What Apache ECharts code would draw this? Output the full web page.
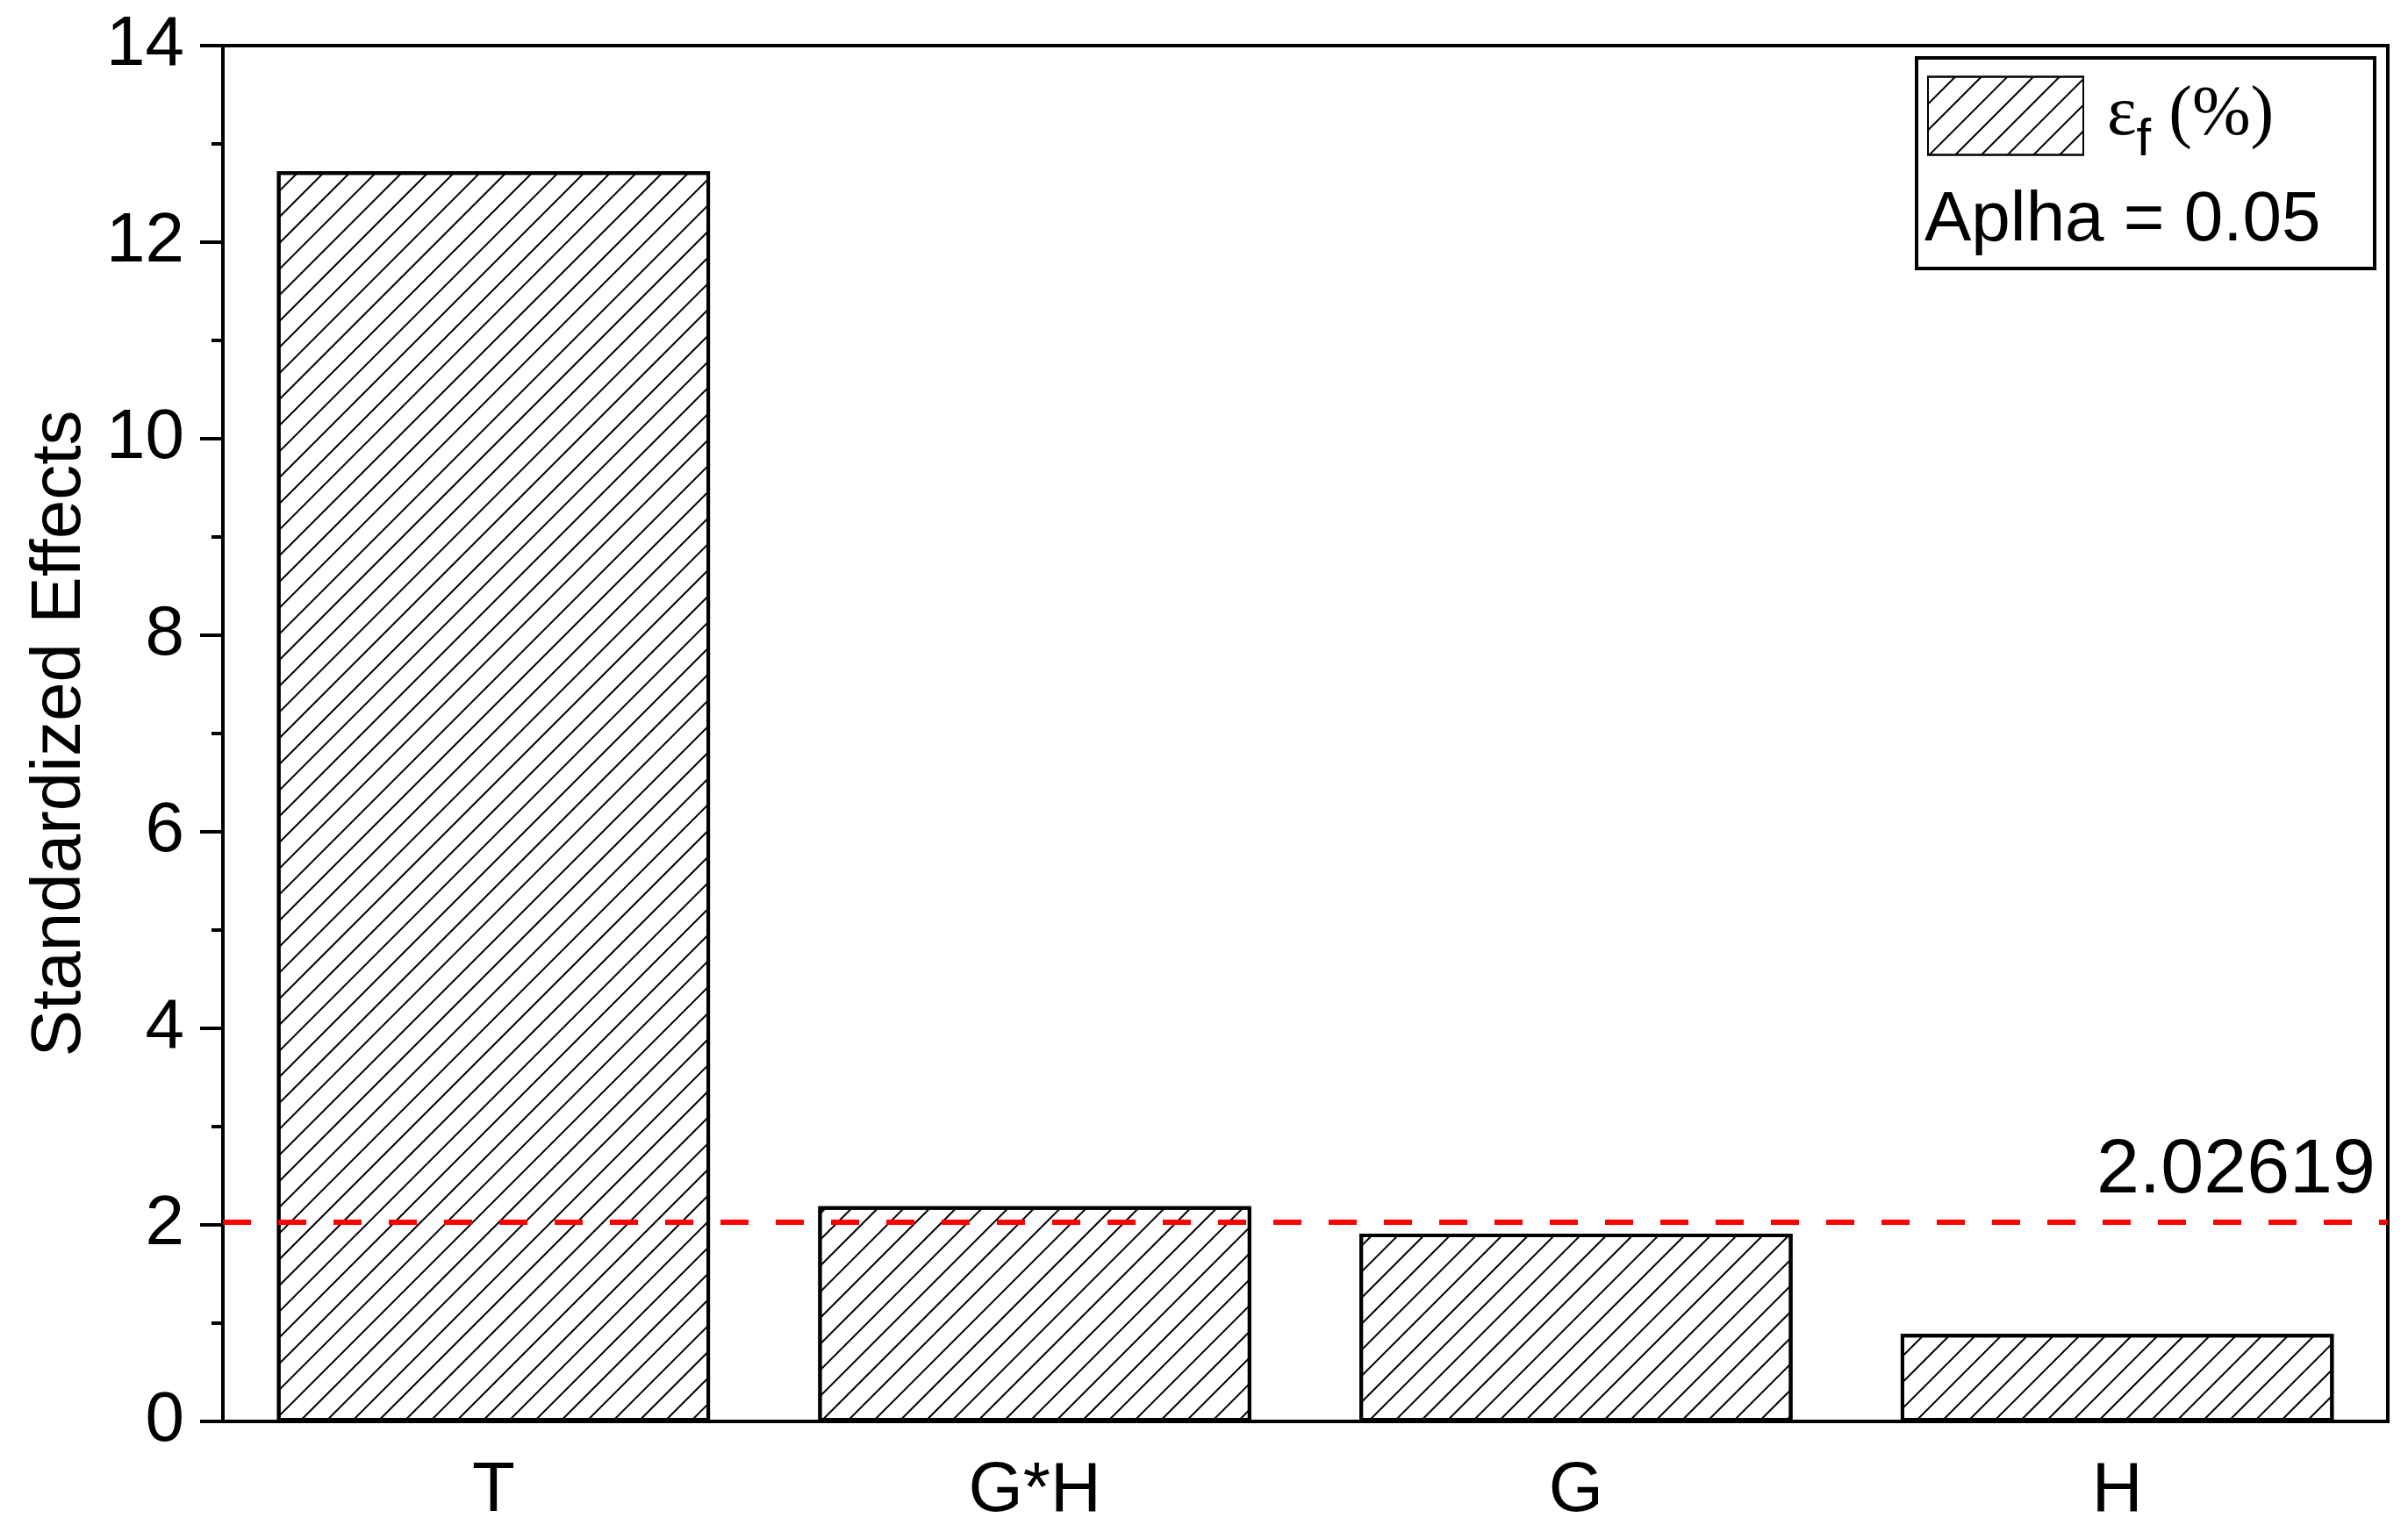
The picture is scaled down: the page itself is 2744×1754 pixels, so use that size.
<!DOCTYPE html>
<html lang="en">
<head>
    <meta charset="UTF-8">
    <title>Standardized Effects</title>
    <script src="https://cdn.jsdelivr.net/npm/echarts@6/dist/echarts.min.js"></script>
    <style>
        html, body { margin: 0; padding: 0; background: #fff; }
        #viz { width: 2744px; height: 1754px; }
    </style>
</head>
<body>
    <div id="viz"></div>
    <script>
        // data
        const categories = ['T', 'G*H', 'G', 'H'];
        const effects = [12.72, 2.19, 1.91, 0.89];
        const threshold = 2.02619;
        const seriesName = 'εf (%)';
        const alphaText = 'Aplha = 0.05';

        const sans = 'Liberation Sans, Arial, sans-serif';
        const serif = 'Liberation Serif, Times New Roman, serif';

        // "/" hatching like the original
        const hatch = {
            symbol: 'rect',
            symbolSize: 1,
            dashArrayX: [1, 0],
            dashArrayY: [2, 19],
            rotation: -Math.PI / 4,
            color: '#000'
        };

        const option = {
            animation: false,
            backgroundColor: '#fff',
            grid: {
                left: 254, right: 23, top: 52, bottom: 134,
                show: true, borderColor: '#000', borderWidth: 4
            },
            title: {
                text: alphaText,
                left: 2193, top: 212,
                padding: 0,
                textStyle: { fontFamily: sans, fontSize: 80, fontWeight: 'normal', color: '#000' }
            },
            legend: {
                data: [{ name: seriesName, icon: 'rect' }],
                left: 2196, top: 74,
                padding: 0,
                itemWidth: 177, itemHeight: 89,
                formatter: () => '{s|}{a|ε}{b|f}{a| (%)}',
                textStyle: {
                    color: '#000',
                    rich: {
                        s: { width: 22 },
                        a: { fontFamily: serif, fontSize: 80, lineHeight: 90 },
                        b: { fontFamily: sans, fontSize: 60, lineHeight: 60, padding: [56, 0, 0, 0] }
                    }
                }
            },
            graphic: [{
                type: 'rect',
                shape: { x: 2184, y: 66, width: 522, height: 240 },
                style: { fill: 'none', stroke: '#000', lineWidth: 4 }
            }],
            xAxis: [{
                type: 'category',
                data: categories,
                axisLine: { lineStyle: { color: '#000', width: 4 } },
                axisTick: { alignWithLabel: true, length: 24, lineStyle: { color: '#000', width: 4 } },
                axisLabel: { fontFamily: sans, fontSize: 80, color: '#000', margin: 40 }
            }, {
                type: 'category',
                data: categories,
                position: 'bottom',
                axisLine: { show: false },
                axisTick: { length: 12, lineStyle: { color: '#000', width: 4 } },
                axisLabel: { show: false }
            }],
            yAxis: {
                type: 'value',
                min: 0, max: 14, interval: 2,
                name: 'Standardized Effects',
                nameLocation: 'middle',
                nameGap: 145,
                nameTextStyle: { fontFamily: sans, fontSize: 80, color: '#000' },
                axisLine: { show: true, lineStyle: { color: '#000', width: 4 } },
                axisTick: { show: true, length: 26, lineStyle: { color: '#000', width: 4 } },
                minorTick: { show: true, splitNumber: 2, length: 13, lineStyle: { color: '#000', width: 4 } },
                splitLine: { show: false },
                axisLabel: { fontFamily: sans, fontSize: 80, color: '#000', margin: 44 }
            },
            series: [{
                name: seriesName,
                type: 'bar',
                data: effects,
                barWidth: '80%',
                itemStyle: { color: '#fff', borderColor: '#000', borderWidth: 4, decal: hatch },
                markLine: {
                    silent: true,
                    symbol: 'none',
                    lineStyle: { color: '#ff0000', type: [32, 31], width: 6 },
                    label: {
                        position: 'insideEndTop',
                        formatter: String(threshold),
                        fontFamily: sans, fontSize: 88, color: '#000',
                        distance: [14, 14]
                    },
                    data: [{ yAxis: threshold }]
                }
            }]
        };

        const chart = echarts.init(document.getElementById('viz'), null, { renderer: 'canvas' });
        chart.setOption(option);
        window.onresize = () => chart.resize();
    </script>
</body>
</html>
